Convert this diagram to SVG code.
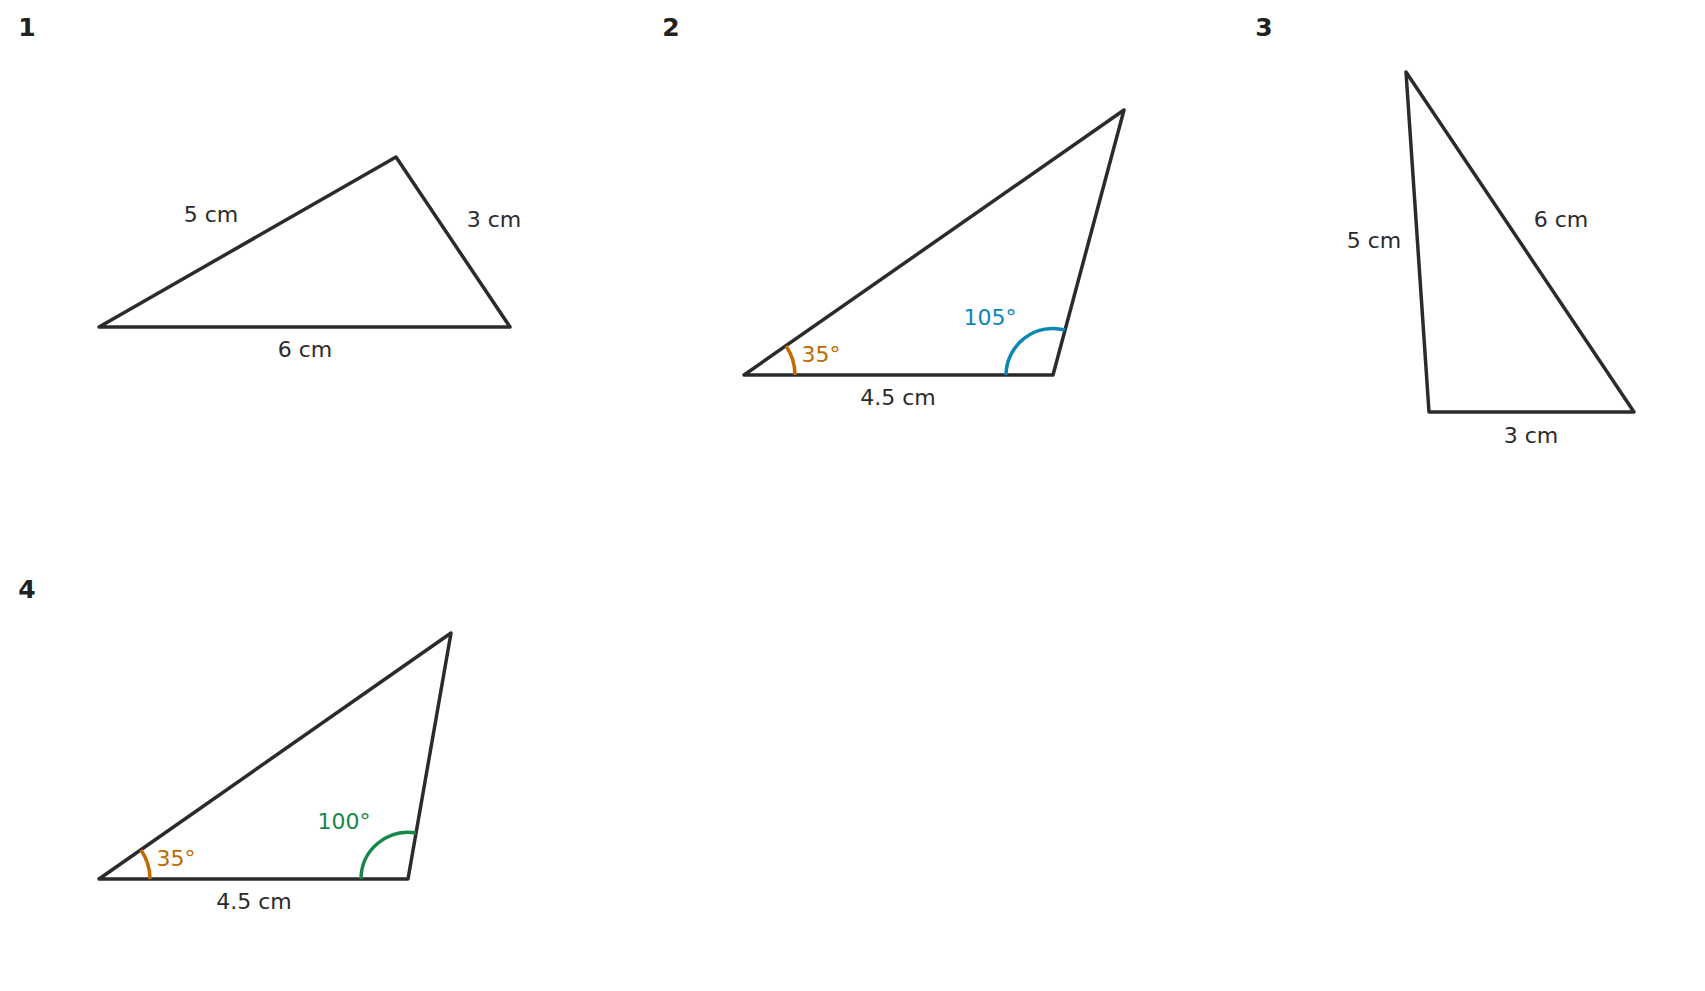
<svg xmlns="http://www.w3.org/2000/svg" width="1705" height="991" viewBox="0 0 1705 991">
<style>
.t{fill:none;stroke:#2b2b2b;stroke-width:3.5;stroke-linejoin:round}
.l{font-family:"DejaVu Sans",sans-serif;font-size:22px;fill:#2b2b2b;text-anchor:middle;dominant-baseline:middle}
.n{font-family:"DejaVu Sans",sans-serif;font-size:25px;font-weight:bold;fill:#222;text-anchor:middle;dominant-baseline:middle}
.o{fill:none;stroke:#c06a00;stroke-width:3.5}
.b{fill:none;stroke:#0a86b8;stroke-width:3.5}
.g{fill:none;stroke:#17884a;stroke-width:3.5}
</style>
<rect width="1705" height="991" fill="#fff"/>
<g id="fig1">
<text class="n" x="27" y="29">1</text>
<polygon class="t" points="99,327 396,157 510,327"/>
<text class="l" x="211" y="216">5 cm</text>
<text class="l" x="494" y="221">3 cm</text>
<text class="l" x="305" y="351">6 cm</text>
</g>
<g id="fig2">
<text class="n" x="671" y="29">2</text>
<polygon class="t" points="744,375 1124,110 1053,375"/>
<path class="o" d="M795,375 A51,51 0 0 0 786,346"/>
<path class="b" d="M1006,375 A47,47 0 0 1 1065,330"/>
<text class="l" x="821" y="356" fill="#c06a00" style="fill:#c06a00">35°</text>
<text class="l" x="990" y="319" style="fill:#0a86b8">105°</text>
<text class="l" x="898" y="399">4.5 cm</text>
</g>
<g id="fig3">
<text class="n" x="1264" y="29">3</text>
<polygon class="t" points="1406,72 1429,412 1634,412"/>
<text class="l" x="1374" y="242">5 cm</text>
<text class="l" x="1561" y="221">6 cm</text>
<text class="l" x="1531" y="437">3 cm</text>
</g>
<g id="fig4">
<text class="n" x="27" y="591">4</text>
<polygon class="t" points="99,879 451,633 408,879"/>
<path class="o" d="M150,879 A51,51 0 0 0 141,850"/>
<path class="g" d="M361,879 A47,47 0 0 1 416,833"/>
<text class="l" x="176" y="860" style="fill:#c06a00">35°</text>
<text class="l" x="344" y="823" style="fill:#17884a">100°</text>
<text class="l" x="254" y="903">4.5 cm</text>
</g>
<g id="connectors"/>
</svg>
